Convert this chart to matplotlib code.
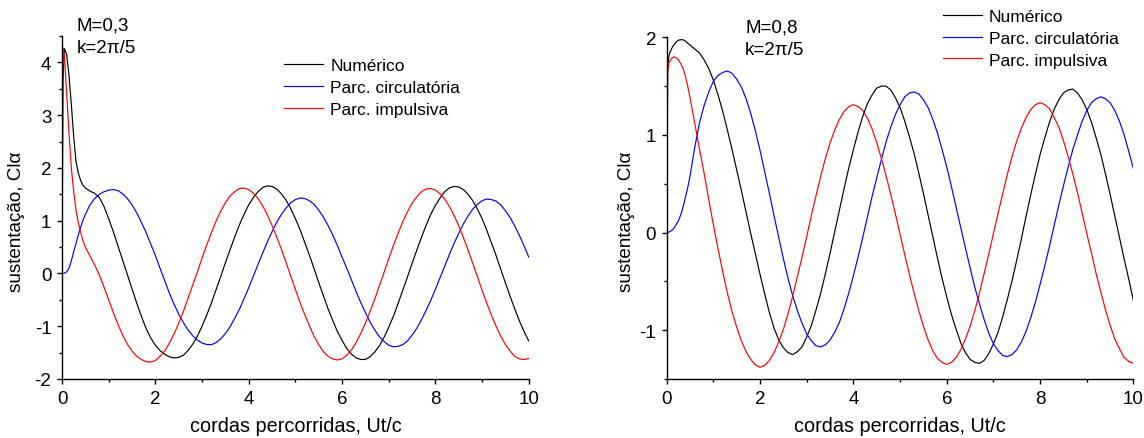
import matplotlib
matplotlib.use("Agg")
import matplotlib.pyplot as plt
from matplotlib.ticker import MultipleLocator

plt.rcParams['font.family'] = ['Liberation Sans', 'DejaVu Sans']
plt.rcParams['axes.unicode_minus'] = False

# Instantes (cordas percorridas) em que as curvas foram lidas
t = [0, 0.02, 0.05, 0.1, 0.15, 0.2, 0.25, 0.3, 0.35, 0.4, 0.45, 0.5, 0.6, 0.7, 0.8, 0.9, 1.0,
     1.1, 1.2, 1.3, 1.4, 1.5, 1.6, 1.7, 1.8, 1.9, 2.0,
     2.1, 2.2, 2.3, 2.4, 2.5, 2.6, 2.7, 2.8, 2.9, 3.0,
     3.1, 3.2, 3.3, 3.4, 3.5, 3.6, 3.7, 3.8, 3.9, 4.0,
     4.1, 4.2, 4.3, 4.4, 4.5, 4.6, 4.7, 4.8, 4.9, 5.0,
     5.1, 5.2, 5.3, 5.4, 5.5, 5.6, 5.7, 5.8, 5.9, 6.0,
     6.1, 6.2, 6.3, 6.4, 6.5, 6.6, 6.7, 6.8, 6.9, 7.0,
     7.1, 7.2, 7.3, 7.4, 7.5, 7.6, 7.7, 7.8, 7.9, 8.0,
     8.1, 8.2, 8.3, 8.4, 8.5, 8.6, 8.7, 8.8, 8.9, 9.0,
     9.1, 9.2, 9.3, 9.4, 9.5, 9.6, 9.7, 9.8, 9.9, 10.0]

# M = 0,3
num_03 = [0, 3.6, 4.26, 4.15, 3.75, 3.2, 2.6, 2.12, 1.9, 1.76, 1.67, 1.62, 1.56, 1.52, 1.44, 1.27, 1.04,
          0.79, 0.52, 0.25, -0.02, -0.29, -0.56, -0.81, -1.04, -1.22, -1.36,
          -1.46, -1.53, -1.58, -1.60, -1.59, -1.55, -1.46, -1.34, -1.19, -1.00,
          -0.79, -0.56, -0.31, -0.06, 0.20, 0.45, 0.69, 0.92, 1.12, 1.30,
          1.44, 1.55, 1.63, 1.66, 1.65, 1.60, 1.51, 1.39, 1.23, 1.04,
          0.83, 0.59, 0.35, 0.09, -0.17, -0.42, -0.67, -0.89, -1.10, -1.27,
          -1.42, -1.53, -1.60, -1.63, -1.63, -1.58, -1.49, -1.37, -1.21, -1.02,
          -0.81, -0.57, -0.32, -0.07, 0.19, 0.44, 0.68, 0.91, 1.12, 1.29,
          1.43, 1.55, 1.62, 1.65, 1.64, 1.59, 1.50, 1.38, 1.22, 1.04,
          0.82, 0.58, 0.34, 0.08, -0.18, -0.43, -0.67, -0.90, -1.10, -1.28]
circ_03 = [0, 0, 0.005, 0.03, 0.1, 0.24, 0.41, 0.57, 0.73, 0.88, 1.01, 1.12, 1.30, 1.42, 1.50, 1.55, 1.58,
           1.59, 1.57, 1.51, 1.42, 1.30, 1.15, 0.97, 0.78, 0.56, 0.34,
           0.10, -0.14, -0.37, -0.58, -0.77, -0.93, -1.07, -1.18, -1.26, -1.32,
           -1.345, -1.35, -1.31, -1.24, -1.14, -1.01, -0.85, -0.68, -0.48, -0.27,
           -0.05, 0.17, 0.39, 0.60, 0.79, 0.97, 1.12, 1.24, 1.34, 1.40,
           1.43, 1.42, 1.38, 1.31, 1.20, 1.07, 0.91, 0.73, 0.53, 0.31,
           0.10, -0.12, -0.34, -0.55, -0.74, -0.92, -1.07, -1.20, -1.29, -1.36,
           -1.39, -1.38, -1.35, -1.28, -1.17, -1.04, -0.88, -0.70, -0.51, -0.30,
           -0.08, 0.14, 0.36, 0.57, 0.76, 0.94, 1.09, 1.22, 1.31, 1.38,
           1.41, 1.40, 1.37, 1.30, 1.19, 1.06, 0.90, 0.72, 0.52, 0.31]
imp_03 = [0, 4.28, 4.15, 3.4, 2.65, 2.0, 1.55, 1.2, 0.96, 0.78, 0.62, 0.5, 0.33, 0.16, -0.03, -0.26, -0.5,
          -0.74, -0.97, -1.17, -1.34, -1.47, -1.57, -1.63, -1.67, -1.68, -1.65,
          -1.57, -1.47, -1.32, -1.15, -0.94, -0.72, -0.47, -0.22, 0.03, 0.29,
          0.54, 0.77, 0.99, 1.18, 1.34, 1.47, 1.55, 1.61, 1.62, 1.59,
          1.52, 1.42, 1.28, 1.11, 0.91, 0.69, 0.46, 0.21, -0.05, -0.30,
          -0.55, -0.78, -0.99, -1.19, -1.35, -1.48, -1.57, -1.62, -1.64, -1.62,
          -1.55, -1.45, -1.31, -1.14, -0.94, -0.72, -0.49, -0.23, 0.02, 0.28,
          0.53, 0.76, 0.98, 1.17, 1.33, 1.45, 1.55, 1.60, 1.61, 1.58,
          1.51, 1.41, 1.27, 1.10, 0.90, 0.68, 0.44, 0.19, -0.06, -0.32,
          -0.56, -0.79, -1.00, -1.19, -1.35, -1.47, -1.57, -1.62, -1.63, -1.61]

# M = 0,8
num_08 = [0, 1.7, 1.82, 1.88, 1.92, 1.95, 1.97, 1.975, 1.975, 1.96, 1.94, 1.92, 1.88, 1.84, 1.77, 1.68, 1.56,
          1.41, 1.24, 1.05, 0.85, 0.64, 0.43, 0.21, -0.01, -0.22, -0.43,
          -0.63, -0.82, -0.98, -1.10, -1.18, -1.23, -1.25, -1.22, -1.17, -1.07,
          -0.95, -0.79, -0.62, -0.42, -0.21, 0.01, 0.23, 0.45, 0.66, 0.85,
          1.03, 1.19, 1.32, 1.41, 1.48, 1.50, 1.50, 1.46, 1.38, 1.28,
          1.14, 0.98, 0.81, 0.61, 0.40, 0.18, -0.04, -0.26, -0.47, -0.66,
          -0.84, -0.99, -1.13, -1.23, -1.30, -1.33, -1.34, -1.31, -1.24, -1.14,
          -1.02, -0.86, -0.68, -0.49, -0.28, -0.06, 0.17, 0.39, 0.60, 0.80,
          0.97, 1.13, 1.26, 1.36, 1.43, 1.46, 1.47, 1.43, 1.36, 1.26,
          1.13, 0.97, 0.80, 0.60, 0.39, 0.17, -0.05, -0.27, -0.48, -0.70]
circ_08 = [0, 0, 0.005, 0.02, 0.04, 0.08, 0.12, 0.18, 0.26, 0.36, 0.46, 0.58, 0.87, 1.12, 1.30, 1.44, 1.55,
           1.61, 1.64, 1.655, 1.63, 1.57, 1.49, 1.37, 1.22, 1.04, 0.84,
           0.62, 0.40, 0.17, -0.05, -0.27, -0.47, -0.65, -0.80, -0.93, -1.04,
           -1.11, -1.16, -1.17, -1.15, -1.10, -1.02, -0.92, -0.78, -0.62, -0.44,
           -0.25, -0.05, 0.16, 0.37, 0.56, 0.75, 0.93, 1.08, 1.21, 1.31,
           1.39, 1.43, 1.44, 1.42, 1.36, 1.28, 1.16, 1.02, 0.85, 0.67,
           0.47, 0.26, 0.05, -0.16, -0.36, -0.56, -0.73, -0.89, -1.03, -1.14,
           -1.21, -1.26, -1.27, -1.25, -1.20, -1.12, -1.01, -0.87, -0.71, -0.53,
           -0.34, -0.14, 0.07, 0.28, 0.48, 0.67, 0.85, 1.00, 1.14, 1.25,
           1.33, 1.37, 1.39, 1.37, 1.33, 1.25, 1.14, 1.00, 0.83, 0.65]
imp_08 = [0, 1.65, 1.74, 1.78, 1.80, 1.79, 1.77, 1.73, 1.68, 1.60, 1.50, 1.38, 1.12, 0.86, 0.61, 0.34, 0.08,
          -0.17, -0.40, -0.62, -0.81, -0.97, -1.11, -1.22, -1.30, -1.355, -1.38,
          -1.36, -1.31, -1.23, -1.12, -0.99, -0.83, -0.65, -0.45, -0.25, -0.04,
          0.18, 0.38, 0.58, 0.76, 0.92, 1.05, 1.16, 1.24, 1.29, 1.31,
          1.29, 1.25, 1.17, 1.06, 0.92, 0.76, 0.58, 0.39, 0.19, -0.02,
          -0.23, -0.43, -0.62, -0.80, -0.96, -1.10, -1.21, -1.29, -1.33, -1.35,
          -1.33, -1.28, -1.20, -1.09, -0.96, -0.80, -0.62, -0.42, -0.22, -0.01,
          0.20, 0.40, 0.60, 0.78, 0.94, 1.07, 1.18, 1.26, 1.31, 1.33,
          1.31, 1.27, 1.18, 1.08, 0.94, 0.78, 0.60, 0.41, 0.20, -0.01,
          -0.21, -0.42, -0.61, -0.79, -0.95, -1.09, -1.19, -1.28, -1.32, -1.34]

rotulos = ["Numérico", "Parc. circulatória", "Parc. impulsiva"]
cores = ["black", "blue", "red"]


def desenhar_painel(ax, series, ylim, mach, pos_legenda, pos_texto, x_ylabel):
    for y, cor, rot in zip(series, cores, rotulos):
        ax.plot(t, y, color=cor, linewidth=0.85, label=rot)

    ax.set_xlim(0, 10)
    ax.set_ylim(*ylim)
    ax.xaxis.set_major_locator(MultipleLocator(2))
    ax.xaxis.set_minor_locator(MultipleLocator(1))
    ax.yaxis.set_major_locator(MultipleLocator(1))
    ax.yaxis.set_minor_locator(MultipleLocator(0.5))

    # So os eixos da esquerda e de baixo
    ax.spines['top'].set_visible(False)
    ax.spines['right'].set_visible(False)
    for lado in ['left', 'bottom']:
        ax.spines[lado].set_linewidth(1.0)
    ax.tick_params(which='major', direction='out', length=3.6, width=1.0,
                   labelsize=13.5, pad=4)
    ax.tick_params(which='minor', direction='out', length=2.4, width=1.0)

    ax.set_xlabel("cordas percorridas, Ut/c", fontsize=14.3, va='bottom')
    ax.set_ylabel("sustentação, Clα", fontsize=13.6, va='center')
    ax.xaxis.set_label_coords(0.5, -0.164)
    ax.yaxis.set_label_coords(x_ylabel, 0.462)

    ax.text(pos_texto[0], pos_texto[1], f"M={mach}", transform=ax.transAxes,
            fontsize=13.5, va='center', ha='left')
    ax.text(pos_texto[0], pos_texto[1] - 0.066, "k=2π/5", transform=ax.transAxes,
            fontsize=13.5, va='center', ha='left')

    ax.legend(loc='upper left', bbox_to_anchor=pos_legenda,
              frameon=False, fontsize=12.5, handlelength=2.25, handletextpad=0.4,
              labelspacing=0.37, borderpad=0, borderaxespad=0)


fig = plt.figure(figsize=(11.44, 4.39), dpi=100)

ax1 = fig.add_axes([0.0542, 0.1344, 0.408, 0.7813])
desenhar_painel(ax1, [num_03, circ_03, imp_03], (-2, 4.5), "0,3",
                (0.476, 0.935), (0.032, 1.032), -0.098)

ax2 = fig.add_axes([0.5828, 0.1344, 0.408, 0.7784])
desenhar_painel(ax2, [num_08, circ_08, imp_08], (-1.5, 2), "0,8",
                (0.592, 1.082), (0.168, 1.030), -0.086)

plt.savefig("out.png", dpi=100)
